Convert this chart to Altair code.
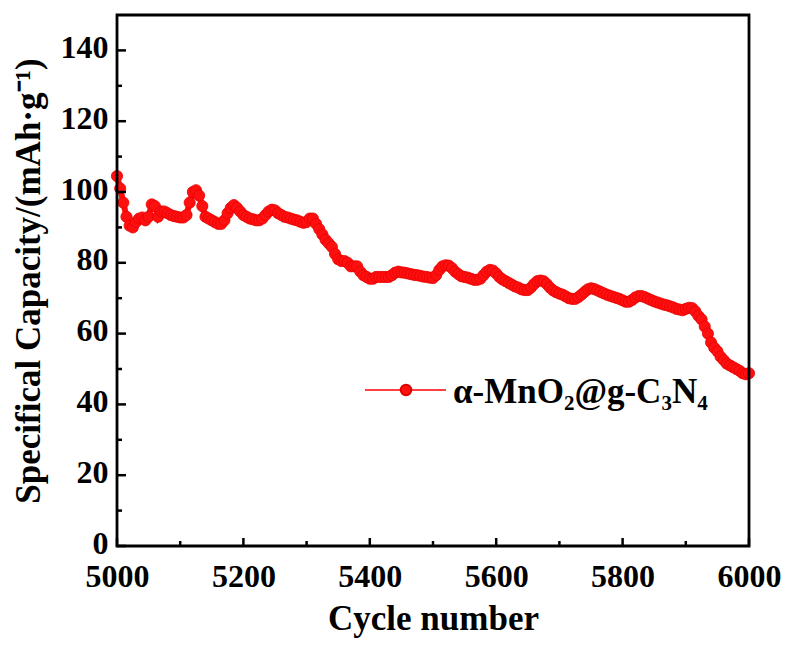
import altair as alt
import pandas as pd

# Capacity values read every 5 cycles from 5000 to 6000
capacity = [
    104.5, 101, 97, 93, 90.5, 90, 91.5, 92.5, 92.8, 92, 93, 96.5, 96, 93, 94.5, 94.5, 94, 93.5, 93.2, 93,
    92.8, 92.8, 93.5, 97, 100, 100.5, 99, 96, 93, 92.5, 92, 91.5, 91, 91, 92, 94, 95.5, 96.3, 95.5, 94.5,
    93.5, 93, 92.5, 92.3, 92, 92, 92.5, 93.5, 94.5, 95, 94.8, 94, 93.5, 93, 92.8, 92.5, 92.2, 92, 91.6, 91.3,
    91.5, 92.5, 92.5, 91, 89.5, 88, 86.5, 85.5, 84.5, 82.5, 81, 80.5, 80.5, 80, 79, 79, 79, 77.5, 76.5, 76,
    75.5, 75.5, 76, 76, 76, 76, 76, 76.5, 77.2, 77.5, 77.3, 77.2, 77, 76.8, 76.6, 76.5, 76.3, 76.1, 76, 75.8,
    75.7, 76.5, 78, 79, 79.3, 79.2, 78.5, 77.5, 76.8, 76.2, 76, 75.8, 75.5, 75.2, 75.2, 75.5, 76.5, 77.5, 78, 77.8,
    77, 76, 75.3, 74.8, 74.3, 73.8, 73.3, 73, 72.5, 72.3, 72.3, 73, 74, 74.8, 75, 74.8, 74, 73, 72.2, 71.7,
    71.3, 71, 70.5, 70, 69.8, 69.8, 70.3, 71, 71.8, 72.5, 72.8, 72.6, 72.2, 71.8, 71.4, 71, 70.7, 70.4, 70.1, 69.8,
    69.4, 69, 69, 69.5, 70.2, 70.6, 70.6, 70.3, 69.9, 69.5, 69.1, 68.8, 68.5, 68.2, 68, 67.7, 67.4, 67, 66.8, 66.6,
    67, 67.3, 67.2, 66.3, 65, 64, 62, 60, 57.5, 56, 55, 53.5, 52.5, 51.5, 51, 50.5, 50, 49.5, 48.8, 48.5,
    48.8,
]
cycles = list(range(5000, 6001, 5))

x_major = [5000, 5200, 5400, 5600, 5800, 6000]
x_minor = [5100, 5300, 5500, 5700, 5900]
y_major = [0, 20, 40, 60, 80, 100, 120, 140]
y_minor = [10, 30, 50, 70, 90, 110, 130]

series_label = "α-MnO₂@g-C₃N₄"

W, H = 632, 531
FONT = "Liberation Serif"

df = pd.DataFrame({"cycle": cycles, "cap": capacity})

xscale = alt.Scale(domain=[5000, 6000], nice=False, zero=False)
yscale = alt.Scale(domain=[0, 150], nice=False)

xaxis = alt.Axis(
    title="Cycle number", values=x_major, format="d", ticks=False, grid=False,
    domain=False, labelFontSize=32, labelFont=FONT, labelFontWeight="bold",
    labelColor="black", labelPadding=15, titleFontSize=35, titleFont=FONT,
    titleFontWeight="bold", titleColor="black", titlePadding=9, labelFlush=False,
)
yaxis = alt.Axis(
    title="Specifical Capacity/(mAh·g⁻¹)", values=y_major, ticks=False, grid=False,
    domain=False, labelFontSize=32, labelFont=FONT, labelFontWeight="bold",
    labelColor="black", labelPadding=9, labelOffset=-3, titleFontSize=35, titleFont=FONT,
    titleFontWeight="bold", titleColor="black", titlePadding=14, labelFlush=False,
)

base = alt.Chart(df)
line = base.mark_line(color="#ff1010", strokeWidth=6).encode(
    x=alt.X("cycle:Q", scale=xscale, axis=xaxis),
    y=alt.Y("cap:Q", scale=yscale, axis=yaxis),
)
points = base.mark_point(
    shape="circle", filled=True, fill="#ff1010", stroke="#e80000",
    strokeWidth=0.8, size=125, opacity=1,
).encode(
    x=alt.X("cycle:Q", scale=xscale, axis=xaxis),
    y=alt.Y("cap:Q", scale=yscale, axis=yaxis),
)

def xticks(vals, length):
    return alt.Chart(pd.DataFrame({"cycle": vals})).mark_rule(
        color="black", strokeWidth=2.5
    ).encode(
        x=alt.X("cycle:Q", scale=xscale, axis=xaxis),
        y=alt.value(H), y2=alt.value(H - length),
    )

def yticks(vals, length):
    return alt.Chart(pd.DataFrame({"cap": vals})).mark_rule(
        color="black", strokeWidth=2.5
    ).encode(
        y=alt.Y("cap:Q", scale=yscale, axis=yaxis),
        x=alt.value(0), x2=alt.value(length),
    )

frame_df = pd.DataFrame({"k": ["frame"]})
frame = alt.Chart(frame_df).mark_rect(
    filled=False, stroke="black", strokeWidth=2.8, fill=None
).encode(
    x=alt.value(0), x2=alt.value(W), y=alt.value(0), y2=alt.value(H)
)

# Legend drawn by hand
leg_df = pd.DataFrame({"label": [series_label]})
leg_line = alt.Chart(leg_df).mark_rule(color="red", strokeWidth=1.5).encode(
    x=alt.value(248), x2=alt.value(329), y=alt.value(375)
)
leg_pt = alt.Chart(leg_df).mark_point(
    shape="circle", filled=True, fill="#ff1010", stroke="#e00000", size=110, opacity=1
).encode(x=alt.value(289), y=alt.value(375))
leg_text = alt.Chart(leg_df).mark_text(
    align="left", baseline="middle", font=FONT, fontWeight="bold", fontSize=35, color="black"
).encode(x=alt.value(336), y=alt.value(377), text="label:N")

chart = alt.layer(
    line, points, frame,
    xticks(x_major, 8), xticks(x_minor, 5),
    yticks(y_major, 9), yticks(y_minor, 5),
    leg_line, leg_pt, leg_text,
).properties(
    width=W, height=H,
    background="white",
    autosize=alt.AutoSizeParams(type="none"),
    padding={"left": 117, "top": 15, "right": 39, "bottom": 102},
).configure_view(
    strokeWidth=0, fill="white"
)

chart.save("out.html", embed_options={"renderer": "svg", "actions": False})
